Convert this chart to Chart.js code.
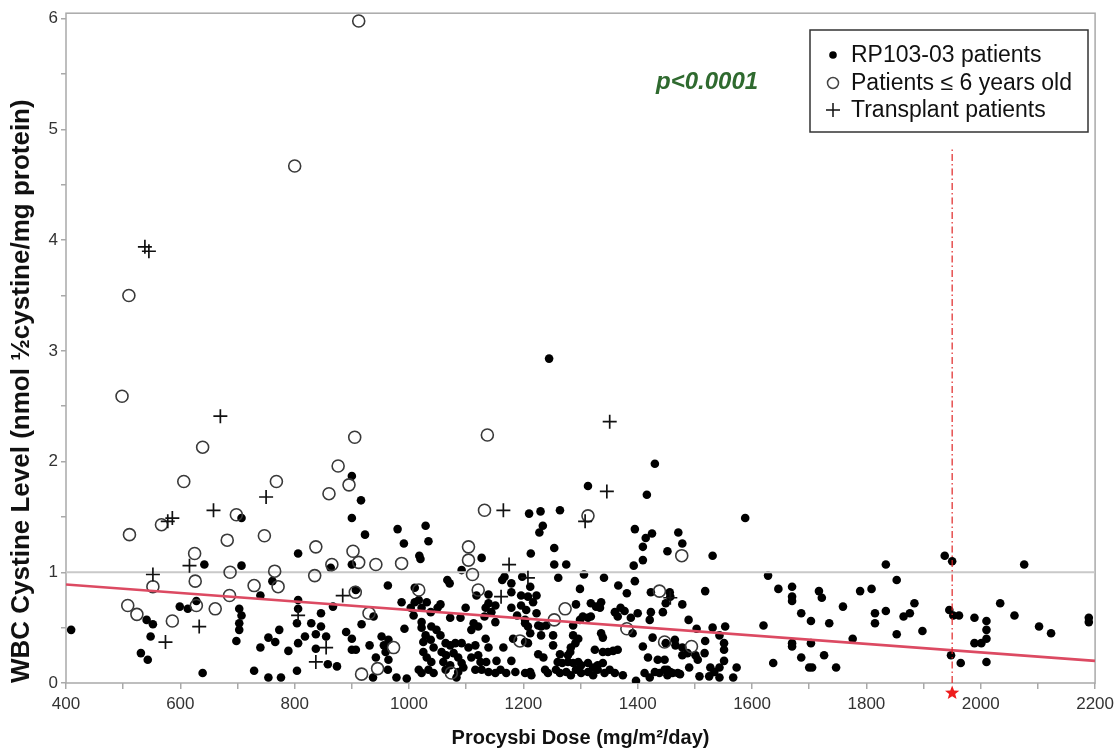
<!DOCTYPE html>
<html>
<head>
<meta charset="utf-8">
<script src="https://cdn.jsdelivr.net/npm/chart.js@4.4.0/dist/chart.umd.min.js"></script>
<style>
  html, body { margin: 0; padding: 0; background: #fff; }
  #wrap { width: 1119px; height: 753px; }
</style>
</head>
<body>
<div id="wrap"><canvas id="chart" width="1119" height="753"></canvas></div>
<script>
// Axis ticks
const xTicks = [400, 600, 800, 1000, 1200, 1400, 1600, 1800, 2000, 2200];
const yTicks = [0, 1, 2, 3, 4, 5, 6];

// RP103-03 patients (dose mg/m2/day, WBC cystine)
const rpPatients = [
  [409,0.48],[900,1.87],[916,1.65],[900,1.49],[923,1.34],[707,1.49],[806,1.17],[642,1.07],[707,1.06],[900,1.07],
  [863,1.04],[761,0.92],[740,0.79],[907,0.84],[628,0.74],[599,0.69],[613,0.67],[703,0.67],[707,0.61],[806,0.75],
  [806,0.67],[867,0.69],[541,0.57],[552,0.53],[703,0.54],[703,0.48],[846,0.63],[804,0.54],[829,0.54],[846,0.51],
  [837,0.44],[855,0.42],[917,0.53],[938,0.60],[890,0.46],[900,0.40],[548,0.42],[773,0.48],[698,0.38],[754,0.41],
  [766,0.37],[740,0.32],[789,0.29],[806,0.36],[818,0.42],[837,0.31],[900,0.30],[907,0.30],[931,0.34],[942,0.23],
  [531,0.27],[543,0.21],[639,0.09],[729,0.11],[754,0.05],[776,0.05],[804,0.11],[858,0.17],[874,0.15],[937,0.05],
  [1245,2.93],[1430,1.98],[1416,1.70],[1313,1.78],[1210,1.53],[1230,1.55],[1264,1.56],[1234,1.42],[1228,1.36],[1213,1.17],
  [1254,1.22],[1254,1.07],[1275,1.07],[1261,0.95],[980,1.39],[991,1.26],[1029,1.42],[1034,1.28],[1018,1.15],[1020,1.12],
  [1127,1.13],[1092,1.02],[1167,0.96],[1198,0.96],[1395,1.39],[1414,1.31],[1425,1.35],[1409,1.23],[1409,1.11],[1393,1.06],
  [1471,1.36],[1452,1.19],[1478,1.26],[1306,0.98],[1341,0.95],[1395,0.92],[963,0.88],[1067,0.93],[1071,0.90],[1163,0.93],
  [1179,0.90],[1212,0.87],[1299,0.85],[1366,0.88],[1381,0.81],[1423,0.82],
  [1010,0.86],[1118,0.79],[1139,0.80],[1179,0.82],[1196,0.79],[987,0.73],[1010,0.73],[1017,0.75],[1031,0.73],[1055,0.71],
  [1050,0.68],[1139,0.72],[1151,0.70],[1196,0.70],[1003,0.68],[1008,0.61],[1022,0.68],[1038,0.64],[1099,0.68],[1134,0.68],
  [1144,0.64],[1132,0.60],[1179,0.68],[1189,0.61],[1203,0.57],[1072,0.59],[1090,0.59],[1113,0.54],[1121,0.51],[1151,0.55],
  [1109,0.48],[992,0.49],[1022,0.55],[1022,0.50],[1039,0.51],[1048,0.48],[1055,0.43],[1029,0.43],[1025,0.37],[1038,0.39],
  [1043,0.32],[1064,0.36],[1072,0.34],[1081,0.36],[1092,0.36],[1104,0.32],[1116,0.34],[1134,0.40],[1139,0.32],[1165,0.32],
  [1182,0.40],[1203,0.37],[952,0.42],[964,0.39],[956,0.34],[959,0.28],[964,0.21],[1025,0.28],[1031,0.23],[1039,0.19],
  [1057,0.28],[1065,0.25],[1078,0.27],[1086,0.23],[1092,0.18],[1060,0.19],[1072,0.16],[1109,0.23],[1121,0.25],[1125,0.19],
  [1135,0.19],[1153,0.20],[1179,0.20],[1017,0.12],[1022,0.09],[1034,0.12],[1043,0.09],[1064,0.12],[1086,0.10],[1095,0.14],
  [1116,0.12],[1127,0.12],[1139,0.10],[1151,0.09],[1160,0.12],[1170,0.09],[1186,0.10],[1203,0.09],[978,0.05],[996,0.04],
  [1083,0.05],[963,0.12],
  [1456,0.82],[1208,0.78],[1223,0.79],[1217,0.73],[1292,0.71],[1318,0.72],[1327,0.69],[1336,0.73],[1334,0.68],[1370,0.68],
  [1377,0.65],[1360,0.64],[1400,0.63],[1423,0.64],[1444,0.64],[1449,0.72],[1205,0.66],[1223,0.63],[1304,0.60],[1313,0.59],
  [1318,0.60],[1299,0.57],[1365,0.60],[1388,0.59],[1421,0.57],[1203,0.54],[1208,0.51],[1226,0.52],[1231,0.51],[1240,0.52],
  [1287,0.52],[1212,0.45],[1231,0.43],[1252,0.43],[1287,0.43],[1296,0.40],[1291,0.36],[1283,0.32],[1282,0.28],[1336,0.45],
  [1339,0.41],[1391,0.45],[1426,0.41],[1208,0.36],[1252,0.34],[1325,0.30],[1339,0.28],[1348,0.28],[1357,0.29],[1365,0.30],
  [1409,0.33],[1226,0.26],[1235,0.23],[1264,0.26],[1278,0.25],[1418,0.23],[1435,0.21],[1260,0.19],[1268,0.18],[1278,0.19],
  [1287,0.18],[1296,0.19],[1301,0.16],[1313,0.18],[1322,0.14],[1330,0.16],[1339,0.18],[1212,0.10],[1214,0.07],[1238,0.12],
  [1243,0.09],[1257,0.12],[1264,0.09],[1275,0.10],[1283,0.07],[1292,0.12],[1301,0.09],[1313,0.10],[1322,0.07],[1330,0.12],
  [1342,0.09],[1351,0.12],[1360,0.09],[1374,0.07],[1397,0.02],[1412,0.09],[1421,0.05],[1430,0.10],[1438,0.09],[1447,0.12],
  [1452,0.07],[1457,0.10],
  [1457,0.78],[1449,0.36],[1465,0.39],[1466,0.34],[1478,0.32],[1487,0.27],[1501,0.25],[1517,0.27],[1478,0.25],[1447,0.21],
  [1452,0.12],[1461,0.09],[1470,0.09],
  [1588,1.49],[1531,1.15],[1937,1.15],[1950,1.10],[1834,1.07],[2076,1.07],[1628,0.97],[1853,0.93],[1670,0.87],[1646,0.85],
  [1518,0.83],[1717,0.83],[1789,0.83],[1809,0.85],[1670,0.78],[1722,0.77],[1670,0.74],[1478,0.71],[1884,0.72],[2034,0.72],
  [1759,0.69],[1834,0.65],[1815,0.63],[1865,0.60],[1876,0.63],[1686,0.63],[1945,0.66],[1952,0.61],[1962,0.61],[1989,0.59],
  [2010,0.56],[2059,0.61],[1703,0.56],[1735,0.54],[1815,0.54],[1620,0.52],[2102,0.51],[2123,0.45],[2189,0.59],[2189,0.55],
  [2010,0.48],[1898,0.47],[1853,0.44],[1776,0.40],[2010,0.40],[1670,0.36],[1670,0.33],[1703,0.36],[1989,0.36],[2001,0.36],
  [1726,0.25],[1686,0.23],[1948,0.25],[1637,0.18],[1965,0.18],[2010,0.19],[1747,0.14],[1700,0.14],[1705,0.14],
  [1489,0.57],[1503,0.49],[1531,0.50],[1553,0.51],[1543,0.43],[1551,0.36],[1551,0.30],[1551,0.20],[1518,0.38],[1505,0.21],
  [1573,0.14],[1567,0.05],[1490,0.14],[1508,0.06],[1525,0.06],[1534,0.10],[1543,0.05],[1543,0.14],[1527,0.14],[1474,0.08]
];

// Patients <= 6 years old
const youngPatients = [
  [912,5.98],[800,4.67],[510,3.50],[498,2.59],[1137,2.24],[905,2.22],[639,2.13],[606,1.82],[768,1.82],[876,1.96],
  [895,1.79],[860,1.71],[1132,1.56],[698,1.52],[1313,1.51],[511,1.34],[747,1.33],[567,1.43],[682,1.29],[625,1.17],
  [902,1.19],[837,1.23],[1104,1.23],[1477,1.15],[912,1.09],[942,1.07],[987,1.08],[1104,1.11],[687,1.00],[765,1.01],
  [835,0.97],[1111,0.98],[865,1.07],[626,0.92],[552,0.87],[771,0.87],[729,0.88],[686,0.79],[906,0.82],[1121,0.84],
  [1017,0.84],[1438,0.83],[508,0.70],[524,0.62],[628,0.70],[586,0.56],[661,0.67],[930,0.63],[1273,0.67],[1254,0.57],
  [1381,0.49],[1447,0.37],[973,0.32],[945,0.13],[917,0.08],[1074,0.09],[1194,0.38],[1494,0.33]
];

// Transplant patients
const transplantPatients = [
  [538,3.94],[545,3.90],[670,2.41],[1351,2.36],[750,1.68],[658,1.56],[586,1.49],[578,1.46],[616,1.06],[552,0.98],
  [884,0.79],[806,0.61],[633,0.51],[574,0.37],[855,0.32],[837,0.19],[1165,1.56],[1346,1.73],[1308,1.46],[1175,1.07],
  [1208,0.95],[1161,0.78],[1457,0.77]
];

// Regression fit, reference level and dose marker
const fitLine = [[400, 0.89], [2200, 0.20]];
const refLevel = 1;
const doseMarker = 1950;
const doseMarkerTop = 4.83;
const pValueText = 'p<0.0001';

const legendItems = ['RP103-03 patients', 'Patients \u2264 6 years old', 'Transplant patients'];

const toXY = arr => arr.map(p => ({ x: p[0], y: p[1] }));

const framePlugin = {
    id: 'frame',
    beforeDatasetsDraw(chart) {
        const { ctx, chartArea: a } = chart;
        ctx.save();
        ctx.strokeStyle = '#a9a9a9';
        ctx.lineWidth = 1.5;
        ctx.strokeRect(a.left, a.top, a.right - a.left, a.bottom - a.top);
        ctx.restore();
    },
    afterDraw(chart) {
        const ctx = chart.ctx;
        ctx.save();

        // red star under the x axis at the dose marker
        const sx = chart.scales.x.getPixelForValue(doseMarker);
        const sy = chart.chartArea.bottom + 10;
        const R = 7.5, r = 3.2;
        ctx.beginPath();
        for (let i = 0; i < 10; i++) {
            const a = -Math.PI / 2 + i * Math.PI / 5;
            const rad = i % 2 === 0 ? R : r;
            ctx.lineTo(sx + rad * Math.cos(a), sy + rad * Math.sin(a));
        }
        ctx.closePath();
        ctx.fillStyle = '#ee1c1c';
        ctx.fill();

        // p value
        ctx.fillStyle = '#2f6a2f';
        ctx.font = 'italic bold 24px "Liberation Sans", Arial, sans-serif';
        ctx.textBaseline = 'middle';
        ctx.fillText(pValueText, 656, 82);

        // legend box
        ctx.fillStyle = '#fff';
        ctx.fillRect(810, 30, 278, 102);
        ctx.strokeStyle = '#333';
        ctx.lineWidth = 1.5;
        ctx.strokeRect(810, 30, 278, 102);
        const rows = [55, 83, 110];
        ctx.fillStyle = '#111';
        ctx.font = '23px "Liberation Sans", Arial, sans-serif';
        legendItems.forEach((t, i) => ctx.fillText(t, 851, rows[i] + 1));
        // markers
        ctx.beginPath();
        ctx.arc(833, rows[0], 3.8, 0, Math.PI * 2);
        ctx.fillStyle = '#000';
        ctx.fill();
        ctx.beginPath();
        ctx.arc(833, rows[1], 5.5, 0, Math.PI * 2);
        ctx.strokeStyle = '#444';
        ctx.lineWidth = 1.5;
        ctx.stroke();
        ctx.beginPath();
        ctx.moveTo(826, rows[2]); ctx.lineTo(840, rows[2]);
        ctx.moveTo(833, rows[2] - 7); ctx.lineTo(833, rows[2] + 7);
        ctx.strokeStyle = '#111';
        ctx.stroke();
        ctx.restore();
    }
};

const ctx = document.getElementById('chart').getContext('2d');

new Chart(ctx, {
    type: 'scatter',
    data: {
        datasets: [
            {
                label: 'dose marker',
                data: [{ x: doseMarker, y: 0 }, { x: doseMarker, y: doseMarkerTop }],
                showLine: true,
                borderColor: '#e02424',
                borderWidth: 1.2,
                borderDash: [7, 3, 1.5, 3],
                pointRadius: 0,
                order: 0
            },
            {
                label: 'fit',
                data: toXY(fitLine),
                showLine: true,
                borderColor: '#dc4a62',
                borderWidth: 2.6,
                pointRadius: 0,
                order: 1
            },
            {
                label: 'Transplant patients',
                data: toXY(transplantPatients),
                pointStyle: 'cross',
                pointRadius: 7,
                borderColor: '#111',
                borderWidth: 1.7,
                order: 2
            },
            {
                label: 'Patients <= 6 years old',
                data: toXY(youngPatients),
                pointStyle: 'circle',
                pointRadius: 6,
                backgroundColor: 'rgba(255,255,255,0)',
                borderColor: '#3a3a3a',
                borderWidth: 1.6,
                order: 3
            },
            {
                label: 'reference',
                data: [{ x: 400, y: refLevel }, { x: 2200, y: refLevel }],
                showLine: true,
                borderColor: '#c9c9c9',
                borderWidth: 2,
                pointRadius: 0,
                order: 4
            },
            {
                label: 'RP103-03 patients',
                data: toXY(rpPatients),
                pointStyle: 'circle',
                pointRadius: 4.3,
                backgroundColor: '#000',
                borderWidth: 0,
                order: 5
            }
        ]
    },
    options: {
        responsive: false,
        animation: false,
        devicePixelRatio: 1,
        layout: { padding: { left: 0, right: 19, top: 12, bottom: 0 } },
        plugins: {
            legend: { display: false },
            tooltip: { enabled: false }
        },
        scales: {
            x: {
                type: 'linear',
                min: 400,
                max: 2200,
                afterBuildTicks(scale) {
                    const t = [];
                    for (let i = 0; i < xTicks.length; i++) {
                        t.push({ value: xTicks[i] });
                        if (i < xTicks.length - 1) t.push({ value: (xTicks[i] + xTicks[i + 1]) / 2 });
                    }
                    scale.ticks = t;
                },
                afterFit(scale) { scale.height = 70; },
                border: { display: false },
                grid: { drawOnChartArea: false, drawTicks: true, tickLength: 6, color: '#a9a9a9', lineWidth: 1.5 },
                ticks: {
                    autoSkip: false,
                    maxRotation: 0,
                    padding: 5,
                    color: '#333',
                    font: { family: '"Liberation Sans", Arial, sans-serif', size: 17 },
                    callback: v => xTicks.includes(v) ? String(v) : ''
                },
                title: {
                    display: true,
                    text: 'Procysbi Dose (mg/m\u00b2/day)',
                    color: '#111',
                    font: { family: '"Liberation Sans", Arial, sans-serif', size: 20, weight: 'bold' },
                    padding: { top: 0, bottom: 3 }
                }
            },
            y: {
                type: 'linear',
                min: 0,
                max: 6.05,
                afterBuildTicks(scale) {
                    const t = [];
                    for (let i = 0; i < yTicks.length; i++) {
                        t.push({ value: yTicks[i] });
                        if (i < yTicks.length - 1) t.push({ value: (yTicks[i] + yTicks[i + 1]) / 2 });
                    }
                    scale.ticks = t;
                },
                afterFit(scale) { scale.width = 66; },
                border: { display: false },
                grid: { drawOnChartArea: false, drawTicks: true, tickLength: 5, color: '#a9a9a9', lineWidth: 1.5 },
                ticks: {
                    autoSkip: false,
                    padding: 3,
                    color: '#333',
                    font: { family: '"Liberation Sans", Arial, sans-serif', size: 17 },
                    callback: v => yTicks.includes(v) ? String(v) : ''
                },
                title: {
                    display: true,
                    align: 'start',
                    text: 'WBC Cystine Level (nmol \u00bdcystine/mg protein)',
                    color: '#111',
                    font: { family: '"Liberation Sans", Arial, sans-serif', size: 26, weight: 'bold' },
                    padding: { top: 6, bottom: 0 }
                }
            }
        }
    },
    plugins: [framePlugin]
});
</script>
</body>
</html>
